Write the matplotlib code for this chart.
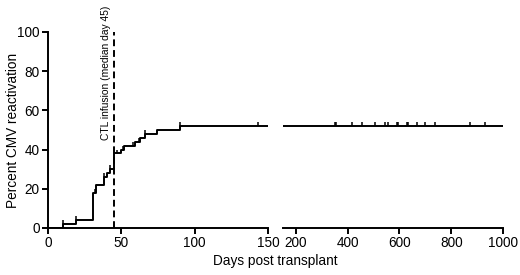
import numpy as np
import matplotlib
matplotlib.use('Agg')
from matplotlib import pyplot as plt

plt.rcParams['font.family'] = ['Liberation Sans', 'DejaVu Sans']

# step curve: event days and cumulative percent after each step
step_days = [0, 10, 19, 31, 33, 38, 40, 42, 45, 50, 52, 59, 63, 66, 74, 90, 1000]
step_pct = [0, 2, 4, 18, 22, 26, 28, 30, 38, 40, 42, 44, 46, 48, 50, 52, 52]

# censor ticks
cens_left_days = [10, 19, 32, 38, 42, 47, 51, 58, 62, 66, 90, 143]
cens_right_days = [350, 356, 415, 455, 505, 545, 557, 590, 595, 628, 634, 667, 700, 738, 872, 930]

infusion_day = 45
infusion_label = 'CTL infusion (median day 45)'

left_xticks = [0, 50, 100, 150]
right_xticks = [200, 400, 600, 800, 1000]
yticks = [0, 20, 40, 60, 80, 100]

def level(d):
    idx = np.searchsorted(step_days, d, side='right') - 1
    return step_pct[idx]

lw = 1.4
fig = plt.figure(figsize=(5.2, 2.75), dpi=100)
ax1 = fig.add_axes([0.0923, 0.171, 0.4231, 0.713])
ax2 = fig.add_axes([0.5442, 0.171, 0.4231, 0.713])

cens = cens_left_days + cens_right_days
for ax in (ax1, ax2):
    ax.step(step_days, step_pct, where='post', color='black', lw=lw)
    ax.vlines(cens, [level(d) for d in cens], [level(d) + 2 for d in cens],
              color='black', lw=1.1)
    ax.set_ylim(0, 100)
    ax.spines['top'].set_visible(False)
    ax.spines['right'].set_visible(False)
    for s in ax.spines.values():
        s.set_linewidth(lw)
    ax.tick_params(width=lw, length=4, labelsize=9.8, pad=2)

ax1.set_xlim(0, 150)
ax1.set_xticks(left_xticks)
ax1.set_yticks(yticks)
ax1.vlines(infusion_day, 0, 100, colors='black', linestyles=(0, (3.5, 2)), lw=lw)
ax1.text(39.5, 45, infusion_label, rotation=90, ha='center', va='bottom',
         fontsize=7.4, clip_on=False)
ax1.set_ylabel('Percent CMV reactivation', fontsize=9.8)
ax1.yaxis.set_label_coords(-0.128, 0.5)

ax2.set_xlim(150, 1000)
ax2.set_xticks(right_xticks)
ax2.spines['left'].set_visible(False)
ax2.set_yticks([])

fig.text(0.53, 0.035, 'Days post transplant', ha='center', fontsize=9.8)

plt.savefig('out.png', dpi=100)
